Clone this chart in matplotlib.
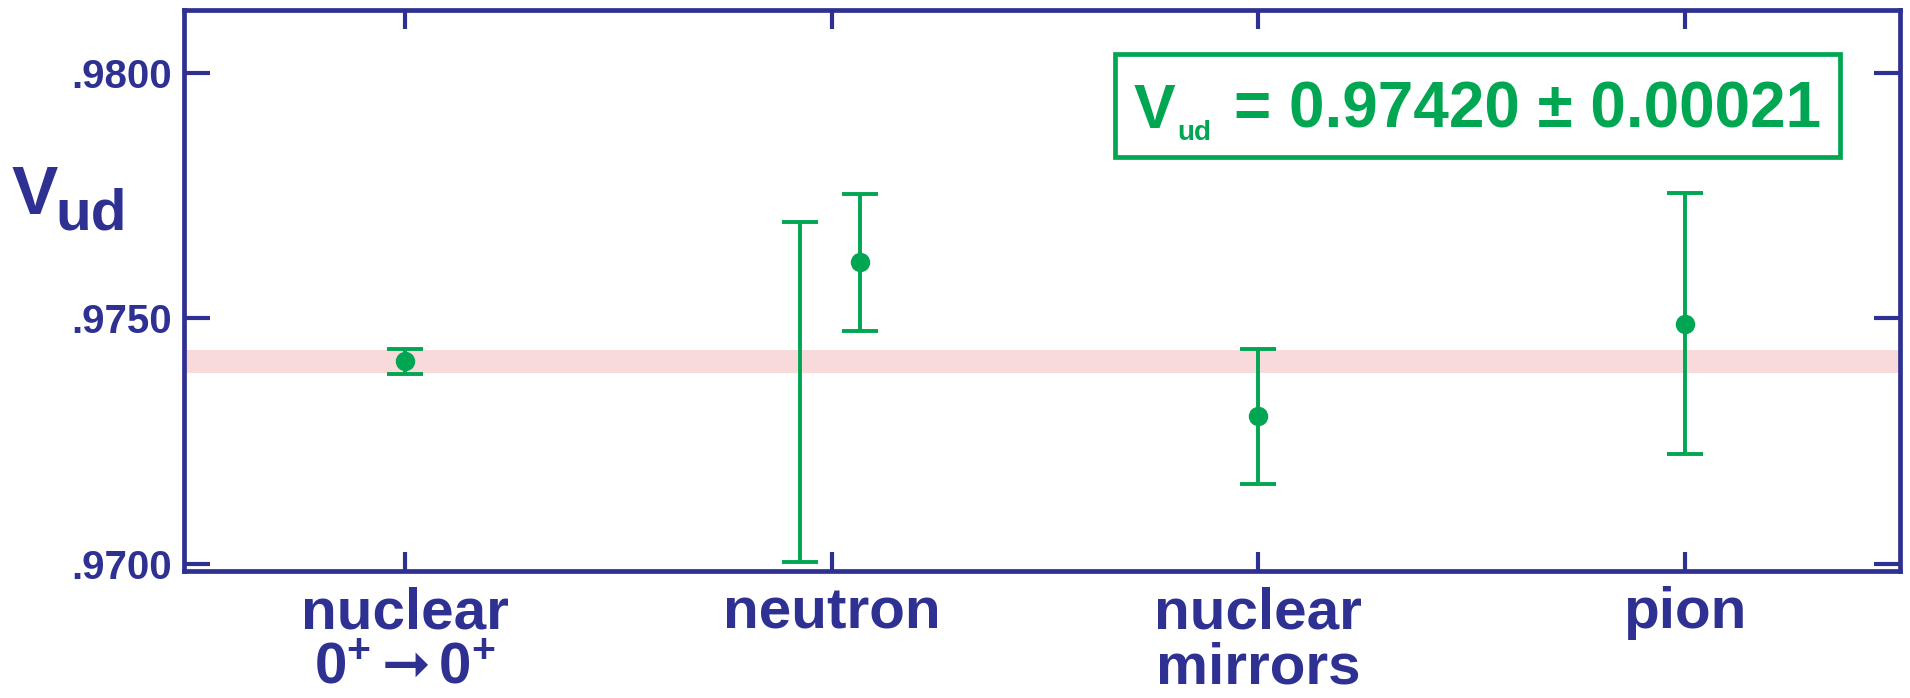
import numpy as np
import matplotlib
matplotlib.use("Agg")
import matplotlib.pyplot as plt
from matplotlib.patches import Rectangle

# colours
navy = '#2E3192'
green = '#00A651'
pink = '#F9DADA'

# categories on the x axis
cat_pos = [1, 2, 3, 4]
cat_labels = ["nuclear\n$0^{+}\\,\\mathsf{\u279e}\\,0^{+}$", "neutron",
              "nuclear\nmirrors", "pion"]

# measurements (x, value, error, draw dot?)
meas_x = [1.0, 1.925, 2.067, 3.0, 4.0]
meas_val = [0.97412, 0.97350, 0.97614, 0.97300, 0.97489]
meas_err = [0.00025, 0.00346, 0.00139, 0.00138, 0.00266]
meas_dot = [True, False, True, True, True]

# world average band
band_lo = 0.97389
band_hi = 0.97436

yticks = [0.9700, 0.9750, 0.9800]

plt.rcParams['font.family'] = ['Liberation Sans', 'DejaVu Sans']
plt.rcParams['font.weight'] = 'bold'
plt.rcParams['mathtext.fontset'] = 'custom'
plt.rcParams['mathtext.rm'] = 'Liberation Sans:bold'
plt.rcParams['mathtext.it'] = 'Liberation Sans:bold'
plt.rcParams['mathtext.bf'] = 'Liberation Sans:bold'
plt.rcParams['mathtext.sf'] = 'DejaVu Sans:bold'

W, H = 1910, 698
fig = plt.figure(figsize=(W / 100, H / 100), dpi=100)
ax = fig.add_axes([184 / W, 1 - 571 / H, (1900 - 184) / W, (571 - 10) / H])

ax.axhspan(band_lo, band_hi, color=pink, lw=0, zorder=1)

for x, v, e, d in zip(meas_x, meas_val, meas_err, meas_dot):
    ax.errorbar(x, v, yerr=e, fmt='o' if d else 'none', color=green, ms=13,
                elinewidth=2.8, capsize=13, capthick=2.8, zorder=3)

ax.set_xlim(0.482, 4.504)
ax.set_ylim(0.969853, 0.981277)

ax.set_xticks(cat_pos)
ax.set_xticklabels(cat_labels, fontsize=42, color=navy, fontweight='bold',
                   linespacing=1.02)
ax.set_yticks(yticks)
ax.set_yticklabels([('%.4f' % t)[1:] for t in yticks], fontsize=29,
                   color=navy, fontweight='bold')

ax.tick_params(axis='x', direction='in', length=14, width=3, color=navy,
               top=True, pad=11)
ax.tick_params(axis='y', direction='in', length=19, width=3, color=navy,
               right=True, pad=9)
for s in ax.spines.values():
    s.set_color(navy)
    s.set_linewidth(3.4)

# y axis label V_ud
def px(x, y):
    return x / W, 1 - y / H

fig.text(*px(12, 214), 'V', fontsize=50, color=navy, fontweight='bold',
         va='baseline', ha='left')
fig.text(*px(55, 230), 'ud', fontsize=42, color=navy, fontweight='bold',
         va='baseline', ha='left')

# result box
x0, y0 = px(1115, 157)
x1, y1 = px(1840, 54)
fig.patches.append(Rectangle((x0, y0), x1 - x0, y1 - y0, transform=fig.transFigure,
                             fill=False, edgecolor=green, linewidth=3.4))
fig.text(*px(1134, 128), 'V', fontsize=45, color=green, fontweight='bold',
         va='baseline', ha='left')
fig.text(*px(1177, 140), 'ud', fontsize=20, color=green, fontweight='bold',
         va='baseline', ha='left')
fig.text(*px(1234, 128), '= 0.97420 \u00b1 0.00021', fontsize=46, color=green,
         fontweight='bold', va='baseline', ha='left')

fig.savefig('out.png', dpi=100)
